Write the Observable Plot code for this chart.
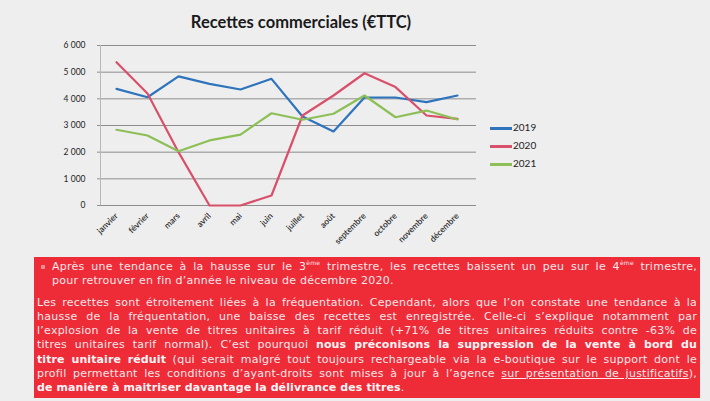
<!DOCTYPE html>
<html>
<head>
<meta charset="utf-8">
<script src="https://cdn.jsdelivr.net/npm/d3@7"></script>
<script src="https://cdn.jsdelivr.net/npm/@observablehq/plot@0.6"></script>
<style>
  html, body { margin: 0; padding: 0; background: #eeeeef; }
  #wrap { position: relative; width: 710px; height: 401px; overflow: hidden; background: #eeeeef; }
  #title { position: absolute; left: 0; width: 602px; top: 12px; text-align: center;
           font-family: Lato, "Open Sans", sans-serif; font-weight: bold; font-size: 16.5px; color: #1a1a1a; }
  #chart { position: absolute; left: 0; top: 0; }
  .leg { position: absolute; left: 490px; font-family: Lato, sans-serif; font-size: 10px; color: #222; }
  .leg span.sw { display: inline-block; width: 22px; height: 2.5px; vertical-align: middle; margin-right: 1px; }
  #box { position: absolute; left: 34px; top: 257px; width: 660px; height: 136px; padding: 3px 3px 2px 3px;
         background: #ee2c38; color: #fde6ea; font-family: "DejaVu Sans", Verdana, sans-serif;
         font-size: 11px; line-height: 14.3px; letter-spacing: 0.25px; }
  #box .l { text-align: justify; text-align-last: justify; white-space: nowrap; }
  #box .e { text-align: left; white-space: nowrap; }
  #box .p1 { padding-left: 15px; position: relative; }
  #box .gap { height: 7px; }
  #bul { position: absolute; left: 7px; top: 8px; width: 4px; height: 4px; background: #f58a90; }
  #box sup { font-size: 6px; vertical-align: 5px; line-height: 0; }
  #box b { color: #fff4f6; letter-spacing: 0.1px; }
  #box u { text-decoration-thickness: 1px; }
</style>
</head>
<body>
<div id="wrap">
  <div id="chart"></div>
  <div id="title">Recettes commerciales (€TTC)</div>
  <div id="legend"></div>
  <div id="box">
    <div id="bul"></div>
    <div class="l p1">Après une tendance à la hausse sur le 3<sup>ème</sup> trimestre, les recettes baissent un peu sur le 4<sup>ème</sup> trimestre,</div>
    <div class="e p1">pour retrouver en fin d’année le niveau de décembre 2020.</div>
    <div class="gap"></div>
    <div class="l">Les recettes sont étroitement liées à la fréquentation. Cependant, alors que l’on constate une tendance à la</div>
    <div class="l">hausse de la fréquentation, une baisse des recettes est enregistrée. Celle-ci s’explique notamment par</div>
    <div class="l">l’explosion de la vente de titres unitaires à tarif réduit (+71% de titres unitaires réduits contre -63% de</div>
    <div class="l">titres unitaires tarif normal). C’est pourquoi <b>nous préconisons la suppression de la vente à bord du</b></div>
    <div class="l"><b>titre unitaire réduit</b> (qui serait malgré tout toujours rechargeable via la e-boutique sur le support dont le</div>
    <div class="l">profil permettant les conditions d’ayant-droits sont mises à jour à l’agence <u>sur présentation de justificatifs</u>),</div>
    <div class="e"><b>de manière à maitriser davantage la délivrance des titres</b>.</div>
  </div>
</div>
<script>
const months = ["janvier","février","mars","avril","mai","juin","juillet","août","septembre","octobre","novembre","décembre"];
const v2019 = [4375, 4060, 4840, 4560, 4350, 4750, 3340, 2775, 4050, 4050, 3875, 4125];
const v2020 = [5375, 4200, 2000, 0, 0, 375, 3375, 4125, 4960, 4440, 3375, 3250];
const v2021 = [2840, 2625, 2035, 2440, 2660, 3460, 3215, 3440, 4125, 3310, 3560, 3225];
const seriesNames = ["2019", "2020", "2021"];
const seriesColors = ["#2e74bd", "#d9506a", "#8cbf55"];
const yTicks = [0, 1000, 2000, 3000, 4000, 5000, 6000];
const yTickLabels = ["0", "1 000", "2 000", "3 000", "4 000", "5 000", "6 000"];

const allValues = [v2019, v2020, v2021];
const rows = [];
seriesNames.forEach((s, si) => {
  months.forEach((m, i) => rows.push({ serie: s, month: m, value: allValues[si][i] }));
});

const chart = Plot.plot({
  width: 710,
  height: 257,
  marginLeft: 97,
  marginRight: 234,
  marginTop: 45,
  marginBottom: 52,
  style: { background: "transparent", fontFamily: "Lato, 'Open Sans', sans-serif", color: "#222" },
  x: { type: "point", domain: months, padding: 0.5, label: null },
  y: { domain: [0, 6000], label: null },
  color: { domain: seriesNames, range: seriesColors },
  marks: [
    Plot.gridY(yTicks, { stroke: "#8e8e8e", strokeOpacity: 1, strokeWidth: 1 }),
    Plot.ruleX([0], { x: () => months[0], dx: -16, stroke: "#b8b8b8", y1: 0, y2: 6000 }),
    Plot.axisY(yTicks, { tickSize: 0, tickPadding: 12, fontSize: 8.5, tickFormat: (d) => yTickLabels[yTicks.indexOf(d)] }),
    Plot.axisX({ tickSize: 0, tickRotate: -45, tickPadding: 9, fontSize: 8.5, fontWeight: 600, fill: "#2a2a2a" }),
    Plot.line(rows, { x: "month", y: "value", z: "serie", stroke: "serie", strokeWidth: 2.2 })
  ]
});
document.getElementById("chart").appendChild(chart);

const legend = document.getElementById("legend");
seriesNames.forEach((s, i) => {
  const d = document.createElement("div");
  d.className = "leg";
  d.style.top = (121 + i * 18) + "px";
  d.innerHTML = `<span class="sw" style="background:${seriesColors[i]}"></span>${s}`;
  legend.appendChild(d);
});
</script>
</body>
</html>
